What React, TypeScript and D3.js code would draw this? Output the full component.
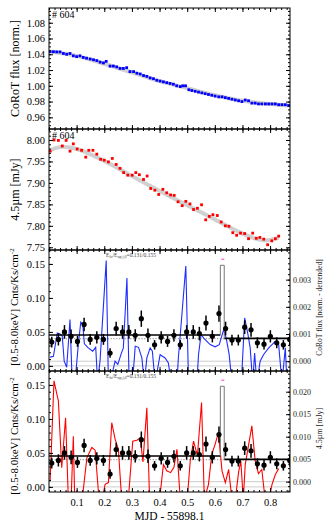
import React, { useEffect, useRef } from "react";
import * as d3 from "d3";

const FONT = "'Liberation Serif', 'Times New Roman', serif";

// ---- panel 1: CoRoT optical light curve ----
const corotTime = [0.004, 0.016, 0.028, 0.04, 0.052, 0.064, 0.076, 0.088, 0.1, 0.112, 0.124, 0.136, 0.149, 0.161, 0.173, 0.185, 0.197, 0.207, 0.221, 0.233, 0.245, 0.257, 0.269, 0.281, 0.293, 0.306, 0.318, 0.33, 0.342, 0.354, 0.366, 0.378, 0.39, 0.402, 0.414, 0.426, 0.438, 0.45, 0.462, 0.475, 0.484, 0.494, 0.506, 0.517, 0.529, 0.541, 0.553, 0.565, 0.577, 0.589, 0.601, 0.614, 0.626, 0.638, 0.65, 0.662, 0.674, 0.686, 0.698, 0.71, 0.722, 0.734, 0.746, 0.758, 0.77, 0.783, 0.795, 0.807, 0.819, 0.831, 0.843, 0.855, 0.867];
const corotFlux = [1.0433, 1.0432, 1.043, 1.043, 1.041, 1.04, 1.041, 1.038, 1.037, 1.038, 1.036, 1.035, 1.034, 1.033, 1.032, 1.03, 1.029, 1.031, 1.025, 1.025, 1.024, 1.022, 1.022, 1.023, 1.018, 1.018, 1.016, 1.015, 1.013, 1.012, 1.01, 1.009, 1.007, 1.006, 1.005, 1.004, 1.003, 1.002, 1.0, 0.999, 1.0, 1.0, 0.995, 0.994, 0.993, 0.992, 0.991, 0.99, 0.989, 0.988, 0.987, 0.986, 0.986, 0.985, 0.984, 0.983, 0.982, 0.981, 0.98, 0.982, 0.981, 0.978, 0.978, 0.977, 0.977, 0.977, 0.977, 0.977, 0.977, 0.976, 0.976, 0.976, 0.975];
const corotFitTime = [0.004, 0.1, 0.2, 0.3, 0.4, 0.5, 0.6, 0.7, 0.8, 0.867];
const corotFitFlux = [1.0435, 1.038, 1.028, 1.017, 1.006, 0.997, 0.988, 0.981, 0.977, 0.975];

// ---- panel 2: Spitzer 4.5um light curve ----
const irTime = [0.004, 0.018, 0.034, 0.048, 0.062, 0.076, 0.088, 0.102, 0.118, 0.133, 0.144, 0.159, 0.173, 0.187, 0.2, 0.215, 0.229, 0.243, 0.257, 0.27, 0.285, 0.301, 0.314, 0.327, 0.342, 0.355, 0.368, 0.383, 0.397, 0.412, 0.426, 0.44, 0.453, 0.467, 0.482, 0.495, 0.51, 0.523, 0.537, 0.552, 0.567, 0.58, 0.593, 0.609, 0.623, 0.638, 0.651, 0.665, 0.679, 0.693, 0.708, 0.722, 0.737, 0.75, 0.763, 0.777, 0.791, 0.806, 0.819, 0.831];
const irFlux = [7.974, 8.0, 7.999, 7.986, 7.999, 7.974, 7.991, 7.979, 7.976, 7.96, 7.976, 7.976, 7.967, 7.955, 7.953, 7.949, 7.957, 7.943, 7.934, 7.924, 7.918, 7.918, 7.924, 7.919, 7.908, 7.916, 7.887, 7.883, 7.873, 7.885, 7.877, 7.872, 7.871, 7.856, 7.847, 7.857, 7.851, 7.838, 7.841, 7.849, 7.814, 7.822, 7.826, 7.824, 7.809, 7.8, 7.799, 7.784, 7.778, 7.783, 7.782, 7.77, 7.783, 7.771, 7.773, 7.769, 7.756, 7.765, 7.77, 7.776];
const irFitTime = [0.004, 0.05, 0.1, 0.2, 0.3, 0.4, 0.5, 0.6, 0.7, 0.78, 0.831];
const irFitFlux = [7.976, 7.984, 7.979, 7.951, 7.916, 7.881, 7.848, 7.815, 7.782, 7.766, 7.772];

// ---- panels 3/4: X-ray count rate ----
const xrayTime = [0.01, 0.034, 0.056, 0.08, 0.103, 0.127, 0.149, 0.173, 0.197, 0.221, 0.243, 0.266, 0.289, 0.312, 0.334, 0.358, 0.382, 0.406, 0.429, 0.452, 0.475, 0.498, 0.522, 0.544, 0.568, 0.591, 0.615, 0.639, 0.662, 0.685, 0.708, 0.731, 0.754, 0.778, 0.801, 0.824, 0.848, 0.871];
const xrayRate = [0.035, 0.039, 0.05, 0.0435, 0.036, 0.061, 0.039, 0.042, 0.039, 0.019, 0.055, 0.05, 0.05, 0.045, 0.0695, 0.045, 0.031, 0.042, 0.036, 0.045, 0.031, 0.05, 0.05, 0.0475, 0.063, 0.0435, 0.077, 0.055, 0.038, 0.038, 0.057, 0.053, 0.034, 0.032, 0.0435, 0.034, 0.031, 0.039];
const xrayErr = [0.008, 0.009, 0.01, 0.01, 0.008, 0.01, 0.008, 0.009, 0.008, 0.007, 0.01, 0.01, 0.01, 0.009, 0.012, 0.01, 0.007, 0.009, 0.008, 0.009, 0.007, 0.01, 0.01, 0.01, 0.011, 0.009, 0.012, 0.01, 0.008, 0.008, 0.01, 0.01, 0.008, 0.008, 0.009, 0.008, 0.007, 0.009];
const blockTimes = [0, 0.62, 0.634, 0.872];
const blockRates = [0.0455, 0.148, 0.0405];
const xrayMean = 0.04;
const flareMark = [0.629, 0.157];
const bandLabel = ["0.131", "0.155"];

// detrended CoRoT (panel 3, right axis)
const detCorotTime = [0.004, 0.016, 0.03, 0.04, 0.048, 0.055, 0.064, 0.076, 0.084, 0.094, 0.106, 0.115, 0.122, 0.128, 0.142, 0.158, 0.169, 0.176, 0.185, 0.207, 0.215, 0.221, 0.239, 0.249, 0.261, 0.269, 0.282, 0.29, 0.302, 0.312, 0.324, 0.336, 0.345, 0.354, 0.366, 0.374, 0.384, 0.402, 0.42, 0.432, 0.442, 0.463, 0.468, 0.478, 0.495, 0.505, 0.535, 0.541, 0.55, 0.565, 0.583, 0.601, 0.616, 0.632, 0.641, 0.652, 0.662, 0.696, 0.708, 0.72, 0.728, 0.737, 0.744, 0.752, 0.764, 0.776, 0.795, 0.807, 0.819, 0.831, 0.843, 0.855, 0.861];
const detCorotFlux = [0.00015, 0.00018, 0.00104, 0.001, 0.00092, 0.0, -0.00022, 0.00153, -0.0008, -0.0008, 0.00061, 0.00144, 0.00135, 0.00064, 0.00049, 0.00037, 0.00051, -0.0008, 0.00006, 0.0037, -0.0008, -0.0008, 0.0, -0.00012, 0.00027, 0.00049, 0.00306, -0.0008, -0.0008, 0.00055, 0.00051, 0.00012, -0.0008, 0.00012, 0.00049, 0.00037, -0.0008, 0.00024, 0.00012, -0.00006, -0.0008, -0.0008, 0.00012, 0.00135, 0.0035, -0.0008, -0.0008, 0.00024, 0.00098, 0.00079, 0.00061, 0.00053, 0.00061, 0.00116, 0.00086, 0.00024, -0.0008, -0.0008, 0.00159, 0.00098, 0.00049, -0.0008, 0.0003, -0.0008, 0.0, 0.00024, 0.00049, 0.00061, 0.00073, 0.00061, -0.0008, 0.00049, -0.0008];

// detrended 4.5um (panel 4, right axis)
const detIrTime = [0.004, 0.018, 0.034, 0.046, 0.06, 0.07, 0.08, 0.088, 0.093, 0.12, 0.137, 0.155, 0.167, 0.181, 0.192, 0.203, 0.215, 0.227, 0.239, 0.251, 0.263, 0.287, 0.303, 0.318, 0.33, 0.34, 0.354, 0.364, 0.4, 0.414, 0.426, 0.44, 0.452, 0.463, 0.475, 0.5, 0.511, 0.523, 0.537, 0.552, 0.562, 0.577, 0.589, 0.601, 0.613, 0.626, 0.638, 0.65, 0.662, 0.674, 0.686, 0.694, 0.703, 0.71, 0.734, 0.746, 0.758, 0.77, 0.782, 0.795, 0.807, 0.819, 0.831];
const detIrFlux = [0.0001, 0.0224, 0.0179, 0.0031, 0.0142, -0.004, -0.004, 0.0101, -0.004, -0.004, 0.0053, 0.0076, 0.007, -0.004, -0.004, -0.0006, -0.0002, 0.0131, 0.0095, 0.0072, -0.004, -0.004, 0.009, 0.0092, 0.0097, 0.0044, 0.0164, -0.004, -0.004, 0.0038, 0.0024, 0.002, 0.0032, 0.0072, -0.004, -0.004, 0.0046, 0.009, 0.0058, 0.0176, -0.004, -0.0006, 0.0061, 0.0083, 0.0109, 0.0024, -0.0002, 0.0027, -0.004, -0.004, 0.0021, 0.0046, -0.004, 0.0038, 0.0124, 0.0046, 0.0018, 0.0027, -0.004, -0.004, -0.0006, 0.0016, 0.0029];

// ---- ticks ----
const xTicks = [0.1, 0.2, 0.3, 0.4, 0.5, 0.6, 0.7, 0.8];
const corotTicks = [0.96, 0.98, 1.0, 1.02, 1.04, 1.06, 1.08];
const irTicks = [7.75, 7.8, 7.85, 7.9, 7.95, 8.0];
const rateTicks = [0.0, 0.05, 0.1, 0.15];
const detCorotTicks = [0.0, 0.001, 0.002, 0.003];
const detIrTicks = [0.0, 0.005, 0.01, 0.015, 0.02];

const L = 49, R = 290, PH = 121;
const tops = [8, 129, 250, 371];

function minors(lo, hi, step) {
  const out = [];
  for (let v = Math.ceil(lo / step) * step; v <= hi; v += step) out.push(+v.toFixed(6));
  return out;
}

function addAxis(parent, transform, axis, size, fill) {
  const g = parent.append("g").attr("transform", transform).call(axis);
  g.select(".domain").remove();
  g.attr("font-family", FONT).attr("font-size", size);
  g.selectAll("line").attr("stroke", "#000");
  g.selectAll("text").attr("fill", fill || "#000");
  return g;
}

function frame(svg, x, y, top, yTicks, yMinor, fmt, opts) {
  const bottom = top + PH;
  const xm = minors(0, 0.872, 0.02);
  const none = () => "";
  addAxis(svg, `translate(0,${bottom})`, d3.axisBottom(x).tickValues(xm).tickSize(-2).tickFormat(none), 10);
  addAxis(svg, `translate(0,${bottom})`, d3.axisBottom(x).tickValues(xTicks).tickSize(-4).tickPadding(7)
    .tickFormat(opts.xLabels ? d3.format(".1f") : none), 10.5);
  addAxis(svg, `translate(0,${top})`, d3.axisTop(x).tickValues(xm).tickSize(-2).tickFormat(none), 10);
  addAxis(svg, `translate(0,${top})`, d3.axisTop(x).tickValues(xTicks).tickSize(-4).tickFormat(none), 10);
  const [d0, d1] = y.domain();
  addAxis(svg, `translate(${L},0)`, d3.axisLeft(y).tickValues(minors(d0, d1, yMinor)).tickSize(-2).tickFormat(none), 10);
  addAxis(svg, `translate(${L},0)`, d3.axisLeft(y).tickValues(yTicks).tickSize(-4).tickPadding(4).tickFormat(d3.format(fmt)), 10.5);
  const yr = opts.right ? opts.right.scale : y;
  const rt = opts.right ? opts.right.ticks : yTicks;
  const rm = opts.right ? opts.right.minor : yMinor;
  const [r0, r1] = yr.domain();
  addAxis(svg, `translate(${R},0)`, d3.axisRight(yr).tickValues(minors(r0, r1, rm)).tickSize(-2).tickFormat(none), 8);
  addAxis(svg, `translate(${R},0)`, d3.axisRight(yr).tickValues(rt).tickSize(-4).tickPadding(3)
    .tickFormat(opts.right ? d3.format(".3f") : none), 8, "#222");
  svg.append("rect").attr("x", L).attr("y", top).attr("width", R - L).attr("height", PH)
    .attr("fill", "none").attr("stroke", "#000").attr("stroke-width", 1);
}

function leftTitle(svg, cx, cy, text, size, sup) {
  const t = svg.append("text").attr("transform", `translate(${cx},${cy}) rotate(-90)`)
    .attr("text-anchor", "middle").attr("font-family", FONT).attr("font-size", size).attr("fill", "#000").text(text);
  if (sup) t.append("tspan").attr("dy", -4).attr("font-size", 7).text(sup);
  return t;
}

export default function App() {
  const ref = useRef(null);
  useEffect(() => {
    const svg = d3.select(ref.current);
    svg.selectAll("*").remove();
    const x = d3.scaleLinear().domain([0, 0.872]).range([L, R]);

    const clip = svg.append("defs");
    tops.forEach((t, i) => {
      clip.append("clipPath").attr("id", `clip${i}`).append("rect")
        .attr("x", L).attr("y", t).attr("width", R - L).attr("height", PH);
    });

    // panel 1
    const y1 = d3.scaleLinear().domain([0.9452, 1.0987]).range([tops[0] + PH, tops[0]]);
    const g1 = svg.append("g").attr("clip-path", "url(#clip0)");
    g1.append("path").datum(corotFitTime.map((t, i) => [t, corotFitFlux[i]]))
      .attr("d", d3.line().x(d => x(d[0])).y(d => y1(d[1])).curve(d3.curveMonotoneX))
      .attr("fill", "none").attr("stroke", "#d0d0d0").attr("stroke-width", 4);
    g1.selectAll("rect.pt").data(corotTime).join("rect").attr("class", "pt")
      .attr("x", (d) => x(d) - 1.4).attr("y", (d, i) => y1(corotFlux[i]) - 1.4)
      .attr("width", 2.8).attr("height", 2.8).attr("fill", "#0000ff");
    frame(svg, x, y1, tops[0], corotTicks, 0.005, ".2f", {});
    svg.append("text").attr("x", 52).attr("y", tops[0] + 10).attr("font-family", FONT).attr("font-size", 10).text("# 604");
    leftTitle(svg, 19, tops[0] + PH / 2, "CoRoT flux [norm.]", 12);

    // panel 2
    const y2 = d3.scaleLinear().domain([7.7437, 8.0256]).range([tops[1] + PH, tops[1]]);
    const g2 = svg.append("g").attr("clip-path", "url(#clip1)");
    g2.append("path").datum(irFitTime.map((t, i) => [t, irFitFlux[i]]))
      .attr("d", d3.line().x(d => x(d[0])).y(d => y2(d[1])).curve(d3.curveMonotoneX))
      .attr("fill", "none").attr("stroke", "#d0d0d0").attr("stroke-width", 4);
    g2.selectAll("rect.pt").data(irTime).join("rect").attr("class", "pt")
      .attr("x", (d) => x(d) - 1.4).attr("y", (d, i) => y2(irFlux[i]) - 1.4)
      .attr("width", 2.8).attr("height", 2.8).attr("fill", "#ff0000");
    frame(svg, x, y2, tops[1], irTicks, 0.01, ".2f", {});
    svg.append("text").attr("x", 52).attr("y", tops[1] + 10).attr("font-family", FONT).attr("font-size", 10).text("# 604");
    leftTitle(svg, 19, tops[1] + PH / 2, "4.5µm [mJy]", 12);

    // panels 3 and 4
    const lower = [
      { top: tops[2], lt: detCorotTime, lv: detCorotFlux, dom: [-0.00036, 0.00409], color: "#1f2eff",
        ticks: detCorotTicks, minor: 0.0002, title: "CoRoT flux [norm. - detrended]", tsize: 7.5, xLabels: false, cy: 307 },
      { top: tops[3], lt: detIrTime, lv: detIrFlux, dom: [-0.0023, 0.0246], color: "#ff0000",
        ticks: detIrTicks, minor: 0.001, title: "4.5µm [mJy]", tsize: 8, xLabels: true, cy: 436 },
    ];
    lower.forEach((p, i) => {
      const top = p.top;
      const y = d3.scaleLinear().domain([-0.0075, 0.1705]).range([top + PH, top]);
      const yr = d3.scaleLinear().domain(p.dom).range([top + PH, top]);
      const g = svg.append("g").attr("clip-path", `url(#clip${i + 2})`);
      [y(0), yr(0)].forEach((yy) => {
        g.append("line").attr("x1", L).attr("x2", R).attr("y1", yy).attr("y2", yy)
          .attr("stroke", "#cccccc").attr("stroke-width", 1);
      });
      g.append("path").datum(p.lt.map((t, k) => [t, p.lv[k]]))
        .attr("d", d3.line().x(d => x(d[0])).y(d => yr(d[1])))
        .attr("fill", "none").attr("stroke", p.color).attr("stroke-width", 1.1);
      g.append("line").attr("x1", L).attr("x2", R).attr("y1", y(xrayMean)).attr("y2", y(xrayMean))
        .attr("stroke", "#666").attr("stroke-width", 0.8).attr("stroke-dasharray", "1.2,1.6");
      // block levels
      g.append("line").attr("x1", x(blockTimes[0])).attr("x2", x(blockTimes[1]))
        .attr("y1", y(blockRates[0])).attr("y2", y(blockRates[0])).attr("stroke", "#000").attr("stroke-width", 1.6);
      g.append("line").attr("x1", x(blockTimes[2])).attr("x2", x(blockTimes[3]))
        .attr("y1", y(blockRates[2])).attr("y2", y(blockRates[2])).attr("stroke", "#000").attr("stroke-width", 1.6);
      g.append("path")
        .attr("d", `M${x(blockTimes[1])},${y(blockRates[0])}V${y(blockRates[1])}H${x(blockTimes[2])}V${y(blockRates[2])}`)
        .attr("fill", "none").attr("stroke", "#777").attr("stroke-width", 1);
      // data with errors
      g.selectAll("line.err").data(xrayTime).join("line").attr("class", "err")
        .attr("x1", d => x(d)).attr("x2", d => x(d))
        .attr("y1", (d, k) => y(xrayRate[k] - xrayErr[k])).attr("y2", (d, k) => y(xrayRate[k] + xrayErr[k]))
        .attr("stroke", "#000").attr("stroke-width", 1.5);
      g.selectAll("circle.pt").data(xrayTime).join("circle").attr("class", "pt")
        .attr("cx", d => x(d)).attr("cy", (d, k) => y(xrayRate[k])).attr("r", 2.6).attr("fill", "#000");
      g.append("line").attr("x1", x(flareMark[0]) - 1.5).attr("x2", x(flareMark[0]) + 1.5)
        .attr("y1", y(flareMark[1])).attr("y2", y(flareMark[1])).attr("stroke", "#ff33cc").attr("stroke-width", 1);
      frame(svg, x, y, top, rateTicks, 0.01, ".2f", { xLabels: p.xLabels, right: { scale: yr, ticks: p.ticks, minor: p.minor } });
      const lbl = svg.append("text").attr("x", 131).attr("y", top + 7).attr("text-anchor", "middle")
        .attr("font-family", FONT).attr("font-size", 5.5).attr("fill", "#444");
      lbl.append("tspan").text("E");
      lbl.append("tspan").attr("font-size", 4).attr("dy", 1).text("lo");
      lbl.append("tspan").attr("dy", -1).text("/E");
      lbl.append("tspan").attr("font-size", 4).attr("dy", 1).text("up,i,0");
      lbl.append("tspan").attr("dy", -1).text(`=${bandLabel[0]}/${bandLabel[1]}`);
      leftTitle(svg, 18, p.cy, "[0.5-8.0keV] Cnts/Ks/cm", 11, "-2");
      svg.append("text").attr("transform", `translate(322,${top + PH / 2 - 3}) rotate(-90)`)
        .attr("text-anchor", "middle").attr("font-family", FONT).attr("font-size", p.tsize).attr("fill", "#222").text(p.title);
    });

    svg.append("text").attr("x", (L + R) / 2).attr("y", 520).attr("text-anchor", "middle")
      .attr("font-family", FONT).attr("font-size", 11.5).attr("fill", "#000").text("MJD - 55898.1");
  }, []);
  return (
    <svg ref={ref} width={327} height={527} style={{ position: "absolute", left: 0, top: 0, background: "#fff" }} />
  );
}
